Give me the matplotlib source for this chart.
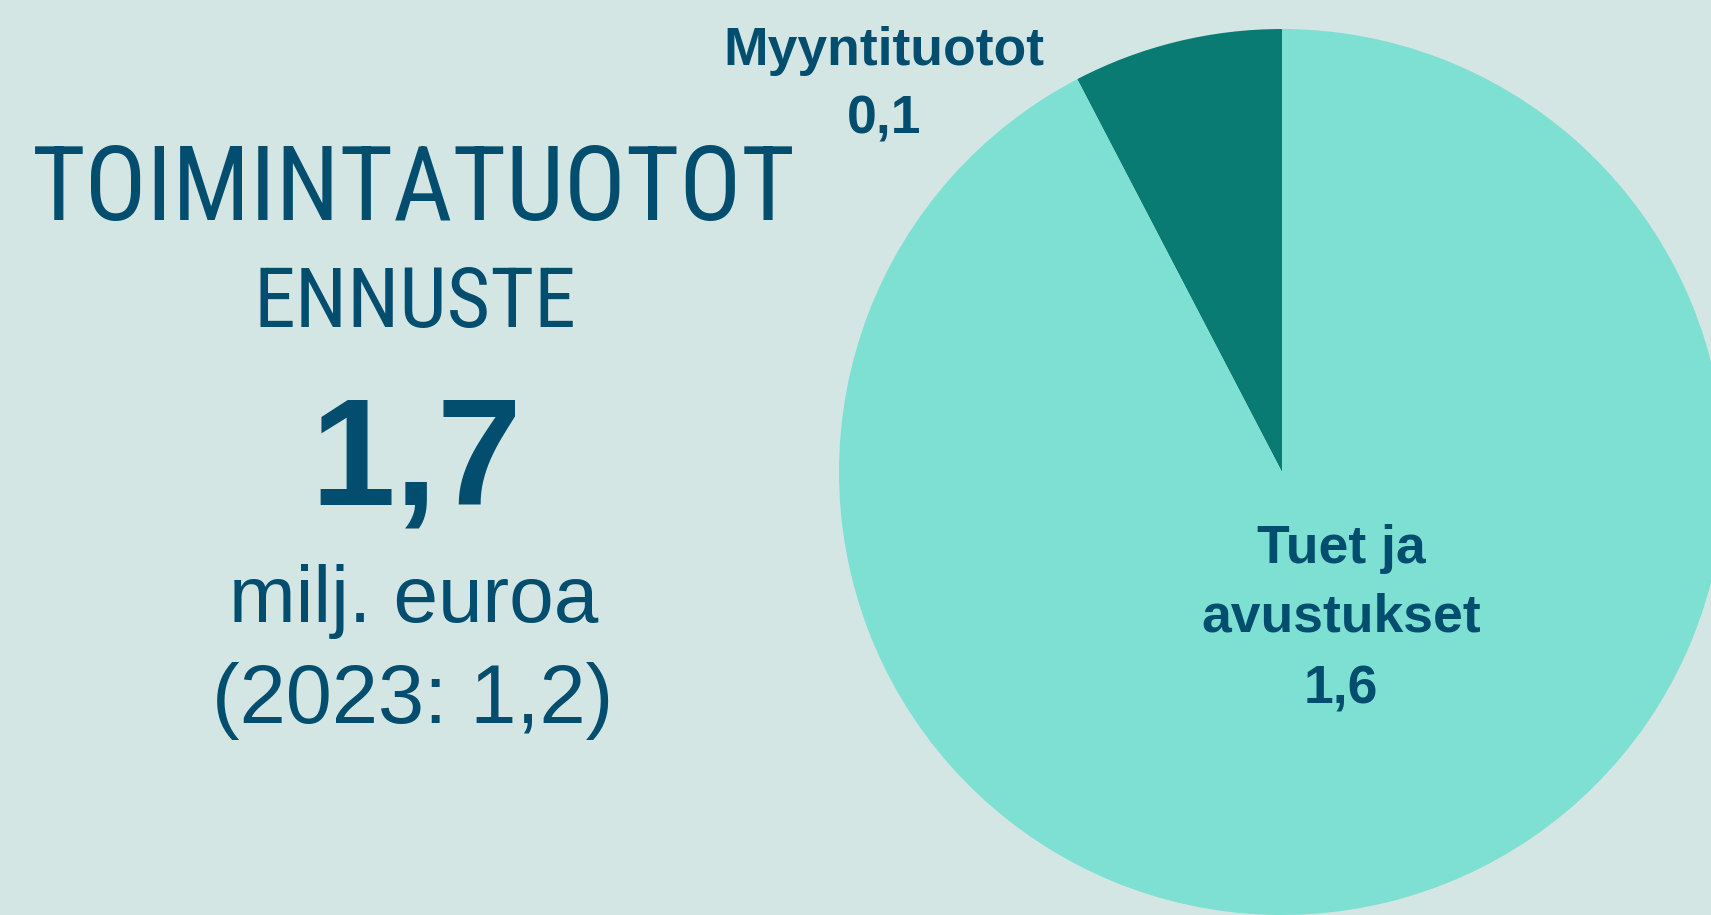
import matplotlib.pyplot as plt
from matplotlib import font_manager as fm

# tiedot
kategoriat = ['Myyntituotot', 'Tuet ja\navustukset']
arvot = [0.13, 1.57]
yhteensa = 1.7
edellinen_vuosi = 2023
edellinen_arvo = 1.2

tausta = '#d4e6e4'
varit = ['#097b73', '#7ee0d3']
teksti = '#034e6e'

W, H = 1711, 915

# kapea fontti jos löytyy
fontit = fm.fontManager.ttflist
kapea = None
for nimi in ['Liberation Sans Narrow', 'Roboto Condensed', 'Open Sans Condensed',
             'DejaVu Sans Condensed']:
    if any(f.name == nimi for f in fontit):
        kapea = dict(family=[nimi, 'DejaVu Sans'])
        break
if kapea is None:
    for nimi in ['DejaVu Sans', 'Open Sans', 'Roboto', 'Noto Sans']:
        if any(f.name == nimi and 'condensed' in str(f.stretch) for f in fontit):
            kapea = dict(family=[nimi], stretch='condensed')
            break
if kapea is None:
    kapea = dict(family=['Liberation Sans', 'DejaVu Sans'])
tavallinen = dict(family=['Liberation Sans', 'DejaVu Sans'])
lihava = dict(family=['Liberation Sans', 'DejaVu Sans'], fontweight='bold')

fig = plt.figure(figsize=(W / 100, H / 100), dpi=100)
fig.patch.set_facecolor(tausta)
renderer = fig.canvas.get_renderer()

def fmt(v):
    return ('%.1f' % v).replace('.', ',')

def px(x, y):
    # pikselit ylhäältä -> kuvan koordinaatit
    return x / W, 1 - y / H

def sovita(t, leveys):
    # fonttikoko niin että teksti on yhtä leveä kuin kuvassa
    w = t.get_window_extent(renderer).width
    t.set_fontsize(t.get_fontsize() * leveys / w)

# piirakka
cx, cy, r = 1282, 472, 443
ax = fig.add_axes([(cx - r) / W, (H - cy - r) / H, 2 * r / W, 2 * r / H])
ax.pie(arvot, colors=varit, startangle=90, counterclock=True,
       wedgeprops=dict(linewidth=0))
ax.set_aspect('auto')
ax.set_xlim(-1, 1)
ax.set_ylim(-1, 1)
ax.axis('off')

# vasen teksti
rivit = [
    ('TOIMINTATUOTOT', 414, 220, 764, kapea),
    ('ENNUSTE', 415, 327, 322, kapea),
    (fmt(yhteensa), 416, 504, 212, lihava),
    ('milj. euroa', 414, 622, 370, tavallinen),
    ('(%d: %s)' % (edellinen_vuosi, fmt(edellinen_arvo)), 413, 723, 402, tavallinen),
]
for s, x, y, lev, fnt in rivit:
    t = fig.text(*px(x, y), s, ha='center', va='baseline', fontsize=60,
                 color=teksti, **fnt)
    sovita(t, lev)

# piirakan otsikot
otsikko_paikat = [(884, [65, 133]), (1341, [563, 632, 704])]
for kat, arvo, (x, ylist) in zip(kategoriat, arvot, otsikko_paikat):
    osat = kat.split('\n') + [fmt(arvo)]
    for osa, y in zip(osat, ylist):
        fig.text(*px(x, y), osa, ha='center', va='baseline', fontsize=38.5,
                 color=teksti, **lihava)

fig.savefig('out.png', dpi=100, facecolor=tausta)
